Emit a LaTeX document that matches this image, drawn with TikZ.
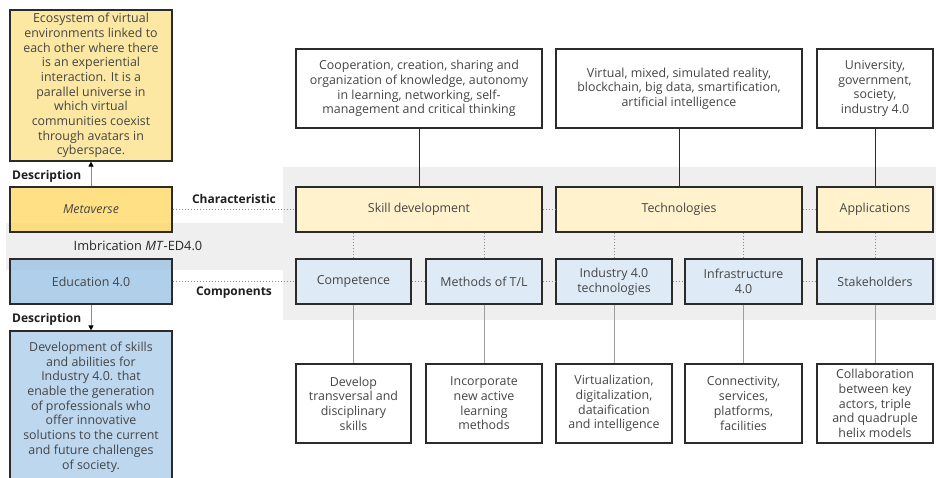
\documentclass[tikz,border=0pt]{standalone}
\usepackage{fontspec}
\setmainfont{Open Sans}
\usetikzlibrary{arrows.meta}
\definecolor{bandgray}{HTML}{EFEFEF}
\definecolor{metadesc}{HTML}{FCE8A2}
\definecolor{metafill}{HTML}{FFD966}
\definecolor{lightyel}{HTML}{FFF2CC}
\definecolor{edufill}{HTML}{9DC3E6}
\definecolor{edudesc}{HTML}{BDD7EE}
\definecolor{lightblue}{HTML}{DEEBF7}
\definecolor{txt}{HTML}{454545}
\definecolor{bord}{HTML}{2B2B2B}
\definecolor{conn}{HTML}{8C8C8C}
\tikzset{
  box/.style={draw=bord, line width=1.2pt, inner sep=0pt, align=center, text=txt,
    font=\fontsize{12.4}{14.7}\selectfont},
  lbl/.style={font=\bfseries\fontsize{12}{14}\selectfont, text=black!88, inner sep=0pt},
  dotline/.style={draw=conn, line width=0.7pt, dash pattern=on 1.6pt off 1.4pt},
  solidline/.style={draw=bord, line width=0.8pt},
  grayline/.style={draw=conn!85, line width=0.9pt},
  arr/.style={draw=conn, line width=0.9pt, -{Triangle[length=5pt,width=5pt,black]}}
}
\begin{document}
\begin{tikzpicture}[x=1pt,y=-1pt]
\useasboundingbox (0,0) rectangle (936,478);
\fill[white] (0,0) rectangle (936,478);
% gray band
\fill[bandgray] (283,167) rectangle (936,320);
\fill[bandgray] (6,223) rectangle (283,270);

% left column
\node[box, fill=metadesc, minimum width=162, minimum height=151] (mdesc) at (91,85.5)
 {Ecosystem of virtual\\environments linked to\\each other where there\\is an experiential\\interaction. It is a\\parallel universe in\\which virtual\\communities coexist\\through avatars in\\cyberspace.};
\node[box, fill=metafill, fill opacity=0.8, text opacity=1, minimum width=162, minimum height=45] (meta) at (91,209.5) {\textit{Metaverse}};
\node[box, fill=edufill, fill opacity=0.8, text opacity=1, minimum width=162, minimum height=45] (edu) at (91,281.5) {Education 4.0};
\node[box, fill=edudesc, minimum width=162, minimum height=152] (edesc) at (91,407)
 {Development of skills\\and abilities for\\Industry 4.0. that\\enable the generation\\of professionals who\\offer innovative\\solutions to the current\\and future challenges\\of society.};

\node[lbl, anchor=west] (d1) at (12,176) {Description};
\node[lbl, anchor=west] (d2) at (12,319) {Description};
\node[font=\fontsize{12.8}{14}\selectfont, text=black!85, inner sep=0pt] (imb) at (138,246) {Imbrication \textit{MT}-ED4.0};
\node[lbl] (charl) at (234,199) {Characteristic};
\node[lbl] (compl) at (234,293) {Components};

% top row
\node[box, fill=white, minimum width=246, minimum height=79] (t1) at (419,88.5)
 {Cooperation, creation, sharing and\\organization of knowledge, autonomy\\in learning, networking, self-\\management and critical thinking};
\node[box, fill=white, minimum width=246, minimum height=79] (t2) at (679,88.5)
 {Virtual, mixed, simulated reality,\\blockchain, big data, smartification,\\artificial intelligence};
\node[box, fill=white, minimum width=116, minimum height=79] (t3) at (875,88.5)
 {University,\\government,\\society,\\industry 4.0};

% middle row
\node[box, fill=lightyel, minimum width=246, minimum height=45] (skill) at (419,209.5) {Skill development};
\node[box, fill=lightyel, minimum width=246, minimum height=45] (tech) at (679,209.5) {Technologies};
\node[box, fill=lightyel, minimum width=116, minimum height=45] (app) at (875,209.5) {Applications};

\node[box, fill=lightblue, minimum width=115, minimum height=45] (comp) at (353.5,281.5) {Competence};
\node[box, fill=lightblue, minimum width=116, minimum height=45] (meth) at (484,281.5) {Methods of T/L};
\node[box, fill=lightblue, minimum width=116, minimum height=45] (ind) at (614,281.5) {Industry 4.0\\technologies};
\node[box, fill=lightblue, minimum width=117, minimum height=45] (infra) at (743.5,281.5) {Infrastructure\\4.0};
\node[box, fill=lightblue, minimum width=116, minimum height=45] (stake) at (875,281.5) {Stakeholders};

% bottom row
\node[box, fill=white, minimum width=115, minimum height=79] (b1) at (353.5,403.5)
 {Develop\\transversal and\\disciplinary\\skills};
\node[box, fill=white, minimum width=116, minimum height=79] (b2) at (484,403.5)
 {Incorporate\\new active\\learning\\methods};
\node[box, fill=white, minimum width=116, minimum height=79] (b3) at (614,403.5)
 {Virtualization,\\digitalization,\\dataification\\and intelligence};
\node[box, fill=white, minimum width=117, minimum height=79] (b4) at (743.5,403.5)
 {Connectivity,\\services,\\platforms,\\facilities};
\node[box, fill=white, minimum width=116, minimum height=79] (b5) at (875,403.5)
 {Collaboration\\between key\\actors, triple\\and quadruple\\helix models};

% connectors
\draw[arr] (meta.north) -- (mdesc.south);
\draw[arr] (edu.south) -- (edesc.north);

\draw[dotline] (meta.east) -- (skill.west);
\draw[dotline] (skill.east) -- (tech.west);
\draw[dotline] (tech.east) -- (app.west);
\draw[dotline] (edu.east) -- (comp.west);
\draw[dotline] (comp.east) -- (meth.west);
\draw[dotline] (meth.east) -- (ind.west);
\draw[dotline] (ind.east) -- (infra.west);
\draw[dotline] (infra.east) -- (stake.west);

\draw[dotline] (comp.north) -- (comp.north |- skill.south);
\draw[dotline] (meth.north) -- (meth.north |- skill.south);
\draw[dotline] (ind.north) -- (ind.north |- tech.south);
\draw[dotline] (infra.north) -- (infra.north |- tech.south);
\draw[dotline] (stake.north) -- (app.south);

\draw[solidline] (t1.south) -- (skill.north);
\draw[solidline] (t2.south) -- (tech.north);
\draw[solidline] (t3.south) -- (app.north);

\draw[grayline] (comp.south) -- (b1.north);
\draw[grayline] (meth.south) -- (b2.north);
\draw[grayline] (ind.south) -- (b3.north);
\draw[grayline] (infra.south) -- (b4.north);
\draw[grayline] (stake.south) -- (b5.north);
\end{tikzpicture}
\end{document}
